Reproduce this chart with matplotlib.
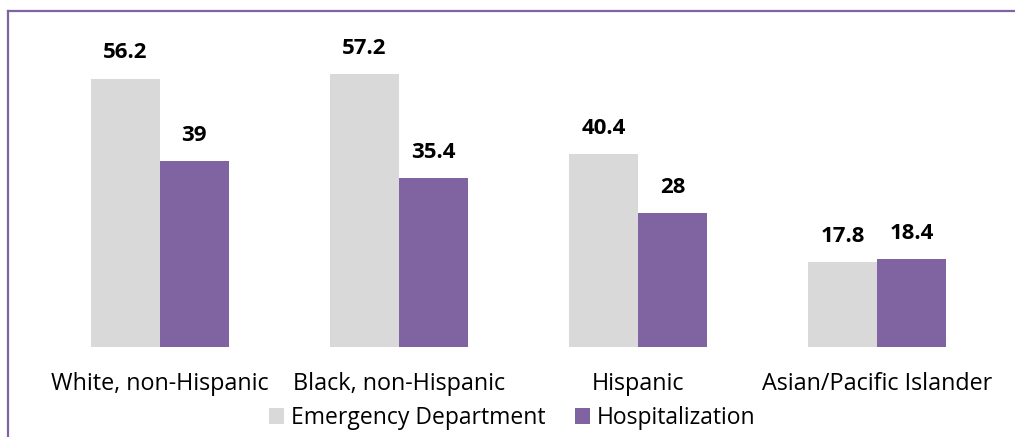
import numpy as np
import matplotlib.pyplot as plt
from matplotlib.lines import Line2D

categories = ['White, non-Hispanic', 'Black, non-Hispanic', 'Hispanic', 'Asian/Pacific Islander']
ed_values = [56.2, 57.2, 40.4, 17.8]
hosp_values = [39, 35.4, 28, 18.4]
ed_labels = ['56.2', '57.2', '40.4', '17.8']
hosp_labels = ['39', '35.4', '28', '18.4']

plt.rcParams['font.family'] = ['Open Sans', 'DejaVu Sans']

fig = plt.figure(figsize=(10.15, 4.37), dpi=100)
ax = fig.add_axes([40/1015, 90/437, 957/1015, 336/437])

x = np.arange(len(categories))
w = 0.288
b1 = ax.bar(x - w/2, ed_values, w, color='#D9D9D9', label='Emergency Department')
b2 = ax.bar(x + w/2, hosp_values, w, color='#8064A2', label='Hospitalization')

for bars, labels in [(b1, ed_labels), (b2, hosp_labels)]:
    for bar, lab in zip(bars, labels):
        ax.annotate(lab, (bar.get_x() + bar.get_width()/2, bar.get_height()),
                    xytext=(0, 11), textcoords='offset points',
                    ha='center', va='bottom', fontsize=16, fontweight='bold')

ax.set_xlim(-0.5, 3.5)
ax.set_ylim(0, 70.4)
ax.set_xticks(x)
ax.set_xticklabels(categories, fontsize=16.8)
ax.tick_params(axis='x', length=0, pad=18)
ax.set_yticks([])
for s in ax.spines.values():
    s.set_visible(False)

fig.legend(handles=[b1, b2], loc='center', bbox_to_anchor=(512/1015, 1 - 418/437),
           ncol=2, frameon=False, fontsize=16.5, handlelength=0.65, handleheight=0.65,
           handletextpad=0.3, columnspacing=1.3)

# outer frame
fig.add_artist(Line2D([8/1015, 1.0], [1 - 11/437, 1 - 11/437], color='#8064A2', lw=1.6))
fig.add_artist(Line2D([8/1015, 8/1015], [0, 1 - 11/437], color='#8064A2', lw=1.6))

fig.savefig('out.png', dpi=100)
